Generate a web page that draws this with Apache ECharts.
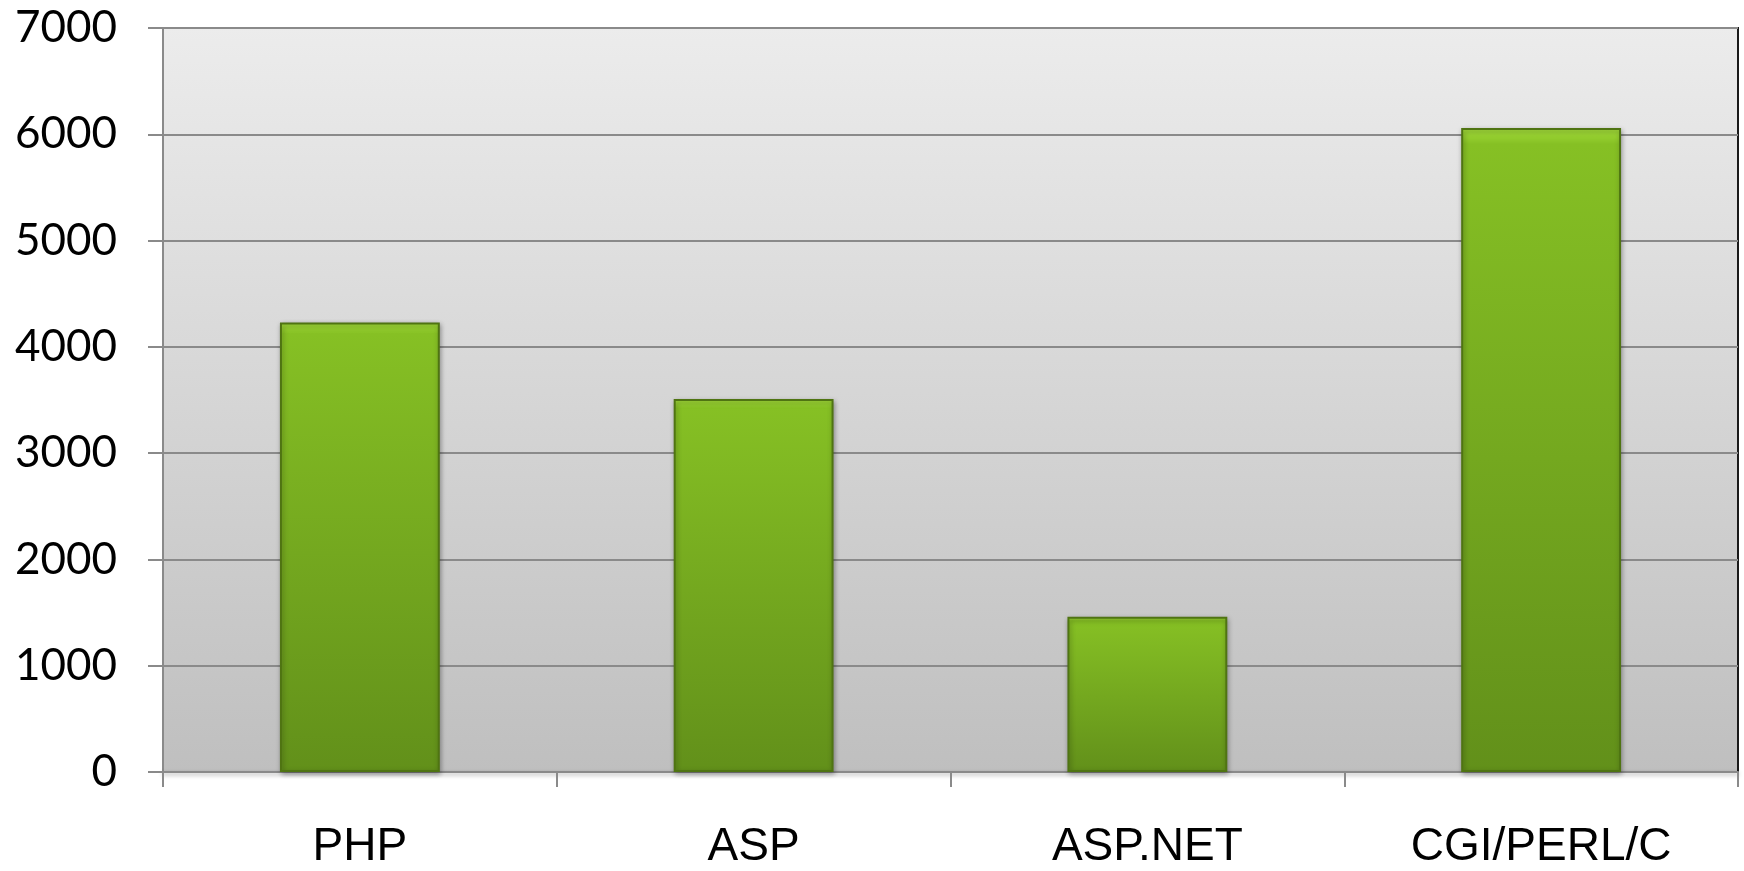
<!DOCTYPE html>
<html>
<head>
<meta charset="utf-8" />
<title>Bar chart</title>
<style>
  html, body { margin: 0; padding: 0; background: #fff; }
  #chart { width: 1744px; height: 871px; }
</style>
</head>
<body>
<div id="chart"></div>
<script src="https://cdn.jsdelivr.net/npm/echarts@6/dist/echarts.min.js"></script>
<script>
// categories and values
var categories = ['PHP', 'ASP', 'ASP.NET', 'CGI/PERL/C'];
var values = [4230, 3510, 1460, 6060];
var yTicks = [0, 1000, 2000, 3000, 4000, 5000, 6000, 7000];

var chart = echarts.init(document.getElementById('chart'));

var option = {
  animation: false,
  grid: {
    left: 163,
    right: 6,
    top: 28,
    bottom: 99,
    show: true,
    borderColor: '#1a1a1a',
    borderWidth: 2,
    backgroundColor: new echarts.graphic.LinearGradient(0, 0, 0, 1, [
      { offset: 0, color: '#ececec' },
      { offset: 1, color: '#bfbfbf' }
    ])
  },
  xAxis: {
    type: 'category',
    data: categories,
    axisLine: { show: true, lineStyle: { color: '#8a8a8a', width: 2, shadowColor: 'rgba(0,0,0,0.35)', shadowBlur: 4, shadowOffsetY: 2 } },
    axisTick: { show: true, length: 15, lineStyle: { color: '#8a8a8a', width: 2 } },
    axisLabel: {
      margin: 52,
      fontSize: 46,
      color: '#000',
      fontFamily: 'Liberation Sans'
    }
  },
  yAxis: {
    type: 'value',
    min: yTicks[0],
    max: yTicks[yTicks.length - 1],
    interval: 1000,
    axisLine: { show: true, lineStyle: { color: '#8a8a8a', width: 2 } },
    axisTick: { show: true, length: 15, lineStyle: { color: '#8a8a8a', width: 2 } },
    splitLine: { show: true, lineStyle: { color: '#8a8a8a', width: 2 } },
    axisLabel: {
      margin: 46,
      fontSize: 44,
      color: '#000',
      fontFamily: 'Lato',
      formatter: function (v) { return String(v); }
    }
  },
  series: [{
    type: 'bar',
    data: values,
    barWidth: '40.6%',
    itemStyle: {
      color: new echarts.graphic.LinearGradient(0, 0, 0, 1, [
        { offset: 0, color: '#a6e03c' },
        { offset: 0.025, color: '#86c024' },
        { offset: 1, color: '#62901a' }
      ]),
      borderColor: '#4f7412',
      borderWidth: 2,
      shadowColor: 'rgba(0,0,0,0.35)',
      shadowBlur: 5,
      shadowOffsetX: 1,
      shadowOffsetY: 2
    }
  }]
};

chart.setOption(option);

window.onresize = function () {
  chart.resize();
};
</script>
</body>
</html>
